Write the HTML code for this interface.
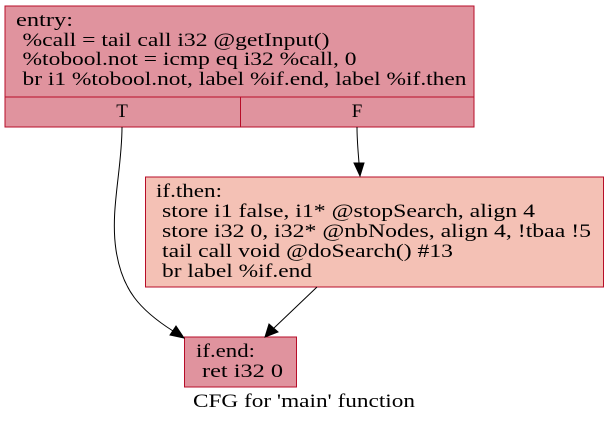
<!DOCTYPE html>
<html><head><style>html,body{margin:0;padding:0;background:#fff}</style></head><body>
<svg width="606" height="424" xmlns="http://www.w3.org/2000/svg" font-family="Liberation Serif, serif" font-size="19">
<rect x="5" y="6" width="469" height="121" fill="#e0939e" stroke="#b70d28" stroke-width="1"/>
<line x1="5" y1="97" x2="474" y2="97" stroke="#b70d28"/>
<line x1="240.5" y1="97" x2="240.5" y2="127" stroke="#b70d28"/>
<text x="16" y="26" textLength="57" lengthAdjust="spacingAndGlyphs">entry:</text>
<text x="22.5" y="46" textLength="307" lengthAdjust="spacingAndGlyphs">%call = tail call i32 @getInput()</text>
<text x="22.5" y="65" textLength="334" lengthAdjust="spacingAndGlyphs">%tobool.not = icmp eq i32 %call, 0</text>
<text x="22.5" y="85" textLength="444" lengthAdjust="spacingAndGlyphs">br i1 %tobool.not, label %if.end, label %if.then</text>
<text x="122" y="117" text-anchor="middle">T</text>
<text x="357" y="117" text-anchor="middle">F</text>
<rect x="145.5" y="177" width="458" height="110" fill="#f4c1b5" stroke="#b70d28"/>
<text x="156" y="197" textLength="66" lengthAdjust="spacingAndGlyphs">if.then:</text>
<text x="162" y="217" textLength="373" lengthAdjust="spacingAndGlyphs">store i1 false, i1* @stopSearch, align 4</text>
<text x="162" y="237" textLength="429" lengthAdjust="spacingAndGlyphs">store i32 0, i32* @nbNodes, align 4, !tbaa !5</text>
<text x="162" y="257" textLength="291" lengthAdjust="spacingAndGlyphs">tail call void @doSearch() #13</text>
<text x="162" y="277" textLength="150" lengthAdjust="spacingAndGlyphs">br label %if.end</text>
<rect x="184.5" y="337" width="112" height="50" fill="#e0939e" stroke="#b70d28"/>
<text x="196" y="357" textLength="59" lengthAdjust="spacingAndGlyphs">if.end:</text>
<text x="202" y="377" textLength="81" lengthAdjust="spacingAndGlyphs">ret i32 0</text>
<text x="193" y="407" textLength="222" lengthAdjust="spacingAndGlyphs">CFG for 'main' function</text>
<path d="M122,127 C122,170 110,210 116,250 C122,290 140,310 173,331" fill="none" stroke="#000"/>
<polygon points="170,335 184,338 176,326" fill="#000" stroke="#000"/>
<path d="M357,127 C357,140 358,150 359,163" fill="none" stroke="#000"/>
<polygon points="354,163 364,163 360,176" fill="#000" stroke="#000"/>
<path d="M317,287 L274,328" fill="none" stroke="#000"/>
<polygon points="269,324 278,332 265,337" fill="#000" stroke="#000"/>
</svg>
</body></html>
